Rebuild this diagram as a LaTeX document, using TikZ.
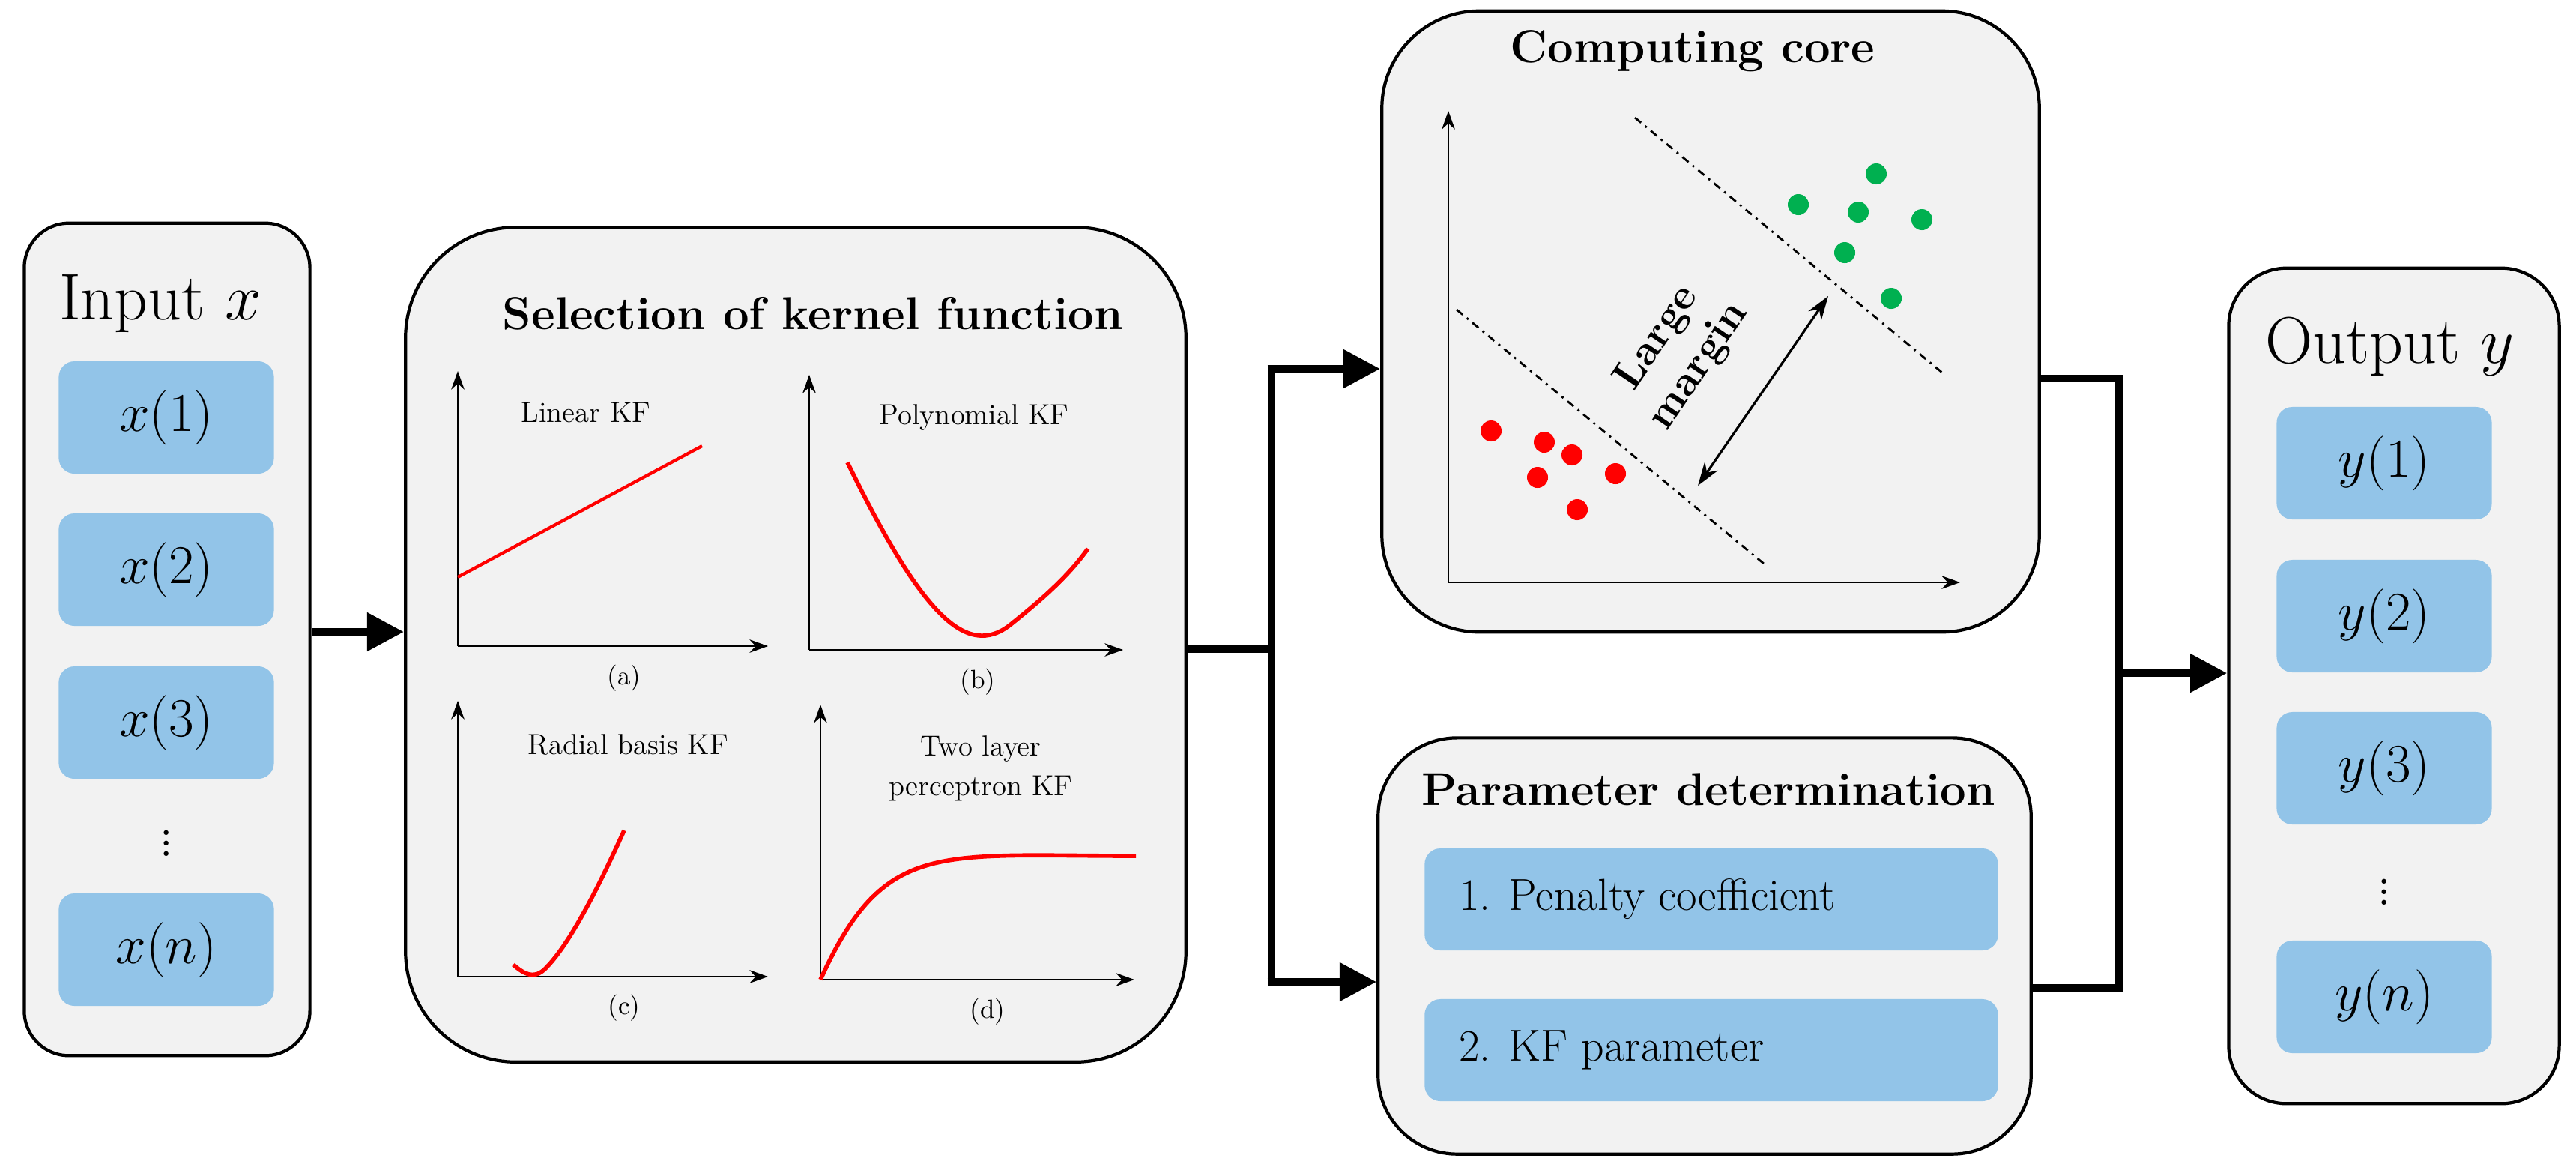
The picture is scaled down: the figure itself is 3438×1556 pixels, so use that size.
\documentclass[tikz,border=0pt]{standalone}
\usetikzlibrary{arrows.meta}
\definecolor{boxgray}{RGB}{242,242,242}
\definecolor{cellblue}{RGB}{146,196,232}
\definecolor{ptred}{RGB}{255,0,0}
\definecolor{ptgreen}{RGB}{0,176,80}
\begin{document}
\begin{tikzpicture}[x=0.01cm,y=-0.01cm,
  panel/.style={draw=black,line width=1.2pt,fill=boxgray,inner sep=0pt},
  cell/.style={fill=cellblue,rounded corners=6pt,minimum width=2.87cm,minimum height=1.5cm,inner sep=0pt,font=\fontsize{22}{26}\selectfont},
  pcell/.style={fill=cellblue,rounded corners=6pt,minimum width=7.65cm,minimum height=1.36cm,inner sep=0pt},
  conn/.style={line width=3pt,-{Triangle[length=14pt,width=14pt]}},
  line/.style={line width=3pt},
  ax/.style={line width=0.8pt,-{Stealth[length=7pt,width=5pt]}},
  curve/.style={ptred,line width=1.6pt},
  lbl/.style={font=\fontsize{11}{13}\selectfont},
  sub/.style={font=\fontsize{10}{12}\selectfont},
  ttl/.style={font=\fontsize{17.5}{21}\selectfont\bfseries},
  big/.style={font=\fontsize{25}{30}\selectfont},
  dot/.style={circle,inner sep=0pt,minimum size=0.28cm}]
\useasboundingbox (0,0) rectangle (3438,1556);
% panels
\node[panel,rounded corners=17pt,minimum width=3.81cm,minimum height=11.1cm] (inbox) at (223,853) {};
\node[panel,rounded corners=42pt,minimum width=10.41cm,minimum height=11.13cm] (kern) at (1062,860) {};
\node[panel,rounded corners=37pt,minimum width=8.77cm,minimum height=8.28cm] (core) at (2283,429) {};
\node[panel,rounded corners=30pt,minimum width=8.71cm,minimum height=5.55cm] (param) at (2275,1262) {};
\node[panel,rounded corners=22pt,minimum width=4.41cm,minimum height=11.14cm] (outbox) at (3195,915) {};
% input
\node[big] (intitle) at (214,405) {Input $x$};
\node[cell] (x1) at (222,557) {$x(1)$};
\node[cell] (x2) at (222,760) {$x(2)$};
\node[cell] (x3) at (222,964) {$x(3)$};
\node[font=\fontsize{22}{26}\selectfont] (xd) at (222,1115) {$\vdots$};
\node[cell] (xn) at (222,1267) {$x(n)$};
% output
\node[big] (outtitle) at (3189,462) {Output $y$};
\node[cell] (y1) at (3182,618) {$y(1)$};
\node[cell] (y2) at (3182,822) {$y(2)$};
\node[cell] (y3) at (3182,1025) {$y(3)$};
\node[font=\fontsize{22}{26}\selectfont] (yd) at (3182,1180) {$\vdots$};
\node[cell] (yn) at (3182,1330) {$y(n)$};
% kernel panel
\node[ttl] (kt) at (1085,418) {Selection of kernel function};
\draw[ax] (611,862) -- (611,495); \draw[ax] (611,862) -- (1025,862);
\draw[ptred,line width=1.2pt] (611,770) -- (937,595);
\node[lbl] (la) at (782,550) {Linear KF};
\node[sub] (sa) at (833,905) {(a)};
\draw[ax] (1080,867) -- (1080,500); \draw[ax] (1080,867) -- (1499,867);
\draw[curve] (1131,617) .. controls (1230,820) and (1290,880) .. (1349,833) .. controls (1390,800) and (1425,770) .. (1452,732);
\node[lbl] (lb) at (1300,557) {Polynomial KF};
\node[sub] (sb) at (1305,910) {(b)};
\draw[ax] (611,1303) -- (611,935); \draw[ax] (611,1303) -- (1025,1303);
\draw[curve] (685,1287) .. controls (700,1300) and (712,1306) .. (726,1294) .. controls (762,1260) and (805,1170) .. (833,1108);
\node[lbl] (lc) at (838,993) {Radial basis KF};
\node[sub] (sc) at (833,1345) {(c)};
\draw[ax] (1095,1307) -- (1095,940); \draw[ax] (1095,1307) -- (1514,1307);
\draw[curve] (1095,1307) .. controls (1180,1120) and (1250,1142) .. (1516,1142);
\node[lbl,align=center] (ld) at (1309,1025) {Two layer\\[2pt]perceptron KF};
\node[sub] (sd) at (1318,1350) {(d)};
% computing core
\node[ttl] (ct) at (2259,68) {Computing core};
\draw[ax] (1933,777) -- (1933,148); \draw[ax] (1933,777) -- (2616,777);
\draw[line width=0.8pt,dash dot] (2182,157) -- (2592,497);
\draw[line width=0.8pt,dash dot] (1944,413) -- (2354,752);
\coordinate (ma) at (2440,395); \coordinate (mb) at (2266,648);
\draw[line width=0.9pt,{Stealth[length=9pt,width=6pt]}-{Stealth[length=9pt,width=6pt]}] (ma) -- (mb);
\node[font=\fontsize{16}{19}\selectfont\bfseries,align=center,rotate=56] (lm) at (2240,470) {Large\\margin};
\foreach \p [count=\i] in {(2504,232),(2400,273),(2480,283),(2565,293),(2462,337),(2524,398)}
  \node[dot,fill=ptgreen] (g\i) at \p {};
\foreach \p [count=\i] in {(1990,575),(2061,590),(2098,607),(2156,632),(2052,637),(2105,680)}
  \node[dot,fill=ptred] (r\i) at \p {};
% parameter determination
\node[ttl] (pt) at (2280,1053) {Parameter determination};
\node[pcell] (p1) at (2284,1200) {};
\node[font=\fontsize{17}{21}\selectfont,anchor=west] (p1t) at (1935,1200) {1. Penalty coefficient};
\node[pcell] (p2) at (2284,1401) {};
\node[font=\fontsize{17}{21}\selectfont,anchor=west] (p2t) at (1935,1401) {2. KF parameter};
% connectors
\draw[conn] (inbox.east |- 0,843) -- (kern.west |- 0,843);
\coordinate (sp) at (1697,866);
\coordinate (spt) at (1697,492);
\coordinate (spb) at (1697,1310);
\draw[line] (kern.east |- sp) -- (sp);
\draw[line] (spt) -- (spb);
\draw[conn] ([xshift=-1.5pt]spt) -- (core.west |- spt);
\draw[conn] ([xshift=-1.5pt]spb) -- (param.west |- spb);
\coordinate (jt) at (2828,505);
\coordinate (jb) at (2828,1318);
\coordinate (jm) at (2828,898);
\draw[line] (core.east |- jt) -- ([xshift=1.5pt]jt);
\draw[line] (param.east |- jb) -- ([xshift=1.5pt]jb);
\draw[line] (jt) -- (jb);
\draw[conn] (jm) -- (outbox.west |- jm);
\end{tikzpicture}
\end{document}
